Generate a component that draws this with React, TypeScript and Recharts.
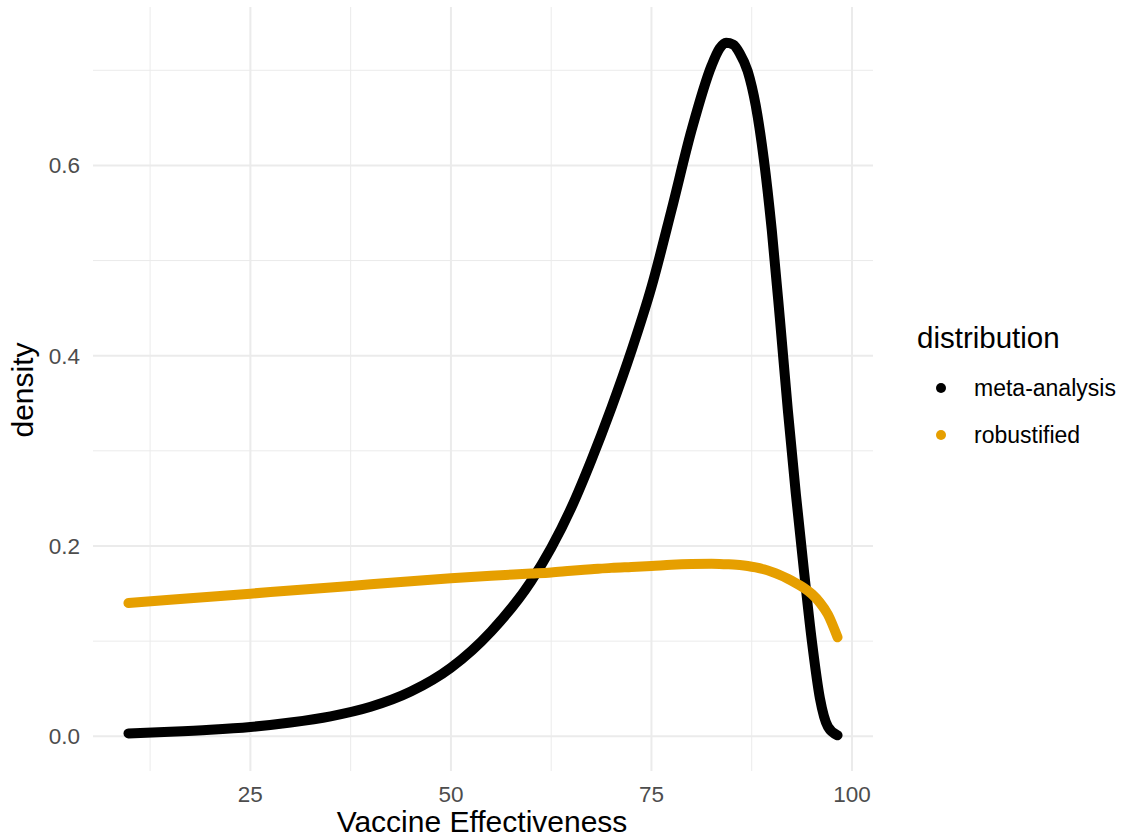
import React from 'react';
import { LineChart, Line, XAxis, YAxis, CartesianGrid, Legend, Label } from 'recharts';

// values
const effectiveness = [9.8, 15, 20, 25, 30, 35, 40, 45, 50, 55, 60, 62.5, 65, 67.5, 70, 72.5, 75, 77.5, 80, 82.5, 83.5, 84.3, 85.2, 86, 87, 88, 89, 90, 91, 92, 93, 94, 95, 96, 97, 98.2];
const metaAnalysis = [0.003, 0.0047, 0.0068, 0.0098, 0.0145, 0.021, 0.031, 0.047, 0.072, 0.11, 0.163, 0.198, 0.24, 0.29, 0.345, 0.405, 0.472, 0.553, 0.637, 0.705, 0.723, 0.729, 0.727, 0.718, 0.699, 0.663, 0.607, 0.532, 0.44, 0.343, 0.255, 0.175, 0.1, 0.04, 0.01, 0.001];
const robustified = [0.14, 0.1434, 0.1467, 0.1499, 0.1532, 0.1564, 0.1597, 0.1629, 0.166, 0.1688, 0.171, 0.1722, 0.174, 0.1755, 0.177, 0.178, 0.179, 0.1803, 0.181, 0.1812, 0.1811, 0.1808, 0.1805, 0.18, 0.179, 0.1775, 0.1755, 0.1728, 0.1695, 0.1655, 0.161, 0.156, 0.1495, 0.1405, 0.128, 0.104];

const xTicks = [25, 50, 75, 100];
const xMinor = [12.5, 37.5, 62.5, 87.5];
const yTicks = [0, 0.2, 0.4, 0.6];
const yMinor = [0.1, 0.3, 0.5, 0.7];

const seriesNames = ['meta-analysis', 'robustified'];
const seriesColors = ['#000000', '#E69F00'];

const FONT = '"Liberation Sans", Arial, sans-serif';

const data = effectiveness.map((x, i) => ({
  x,
  meta: metaAnalysis[i],
  robust: robustified[i],
}));

const LegendBox = () => (
  <div style={{ position: 'relative', width: 205, height: 140, fontFamily: FONT }}>
    <div style={{ position: 'absolute', left: 0, top: 0, fontSize: 29.5, lineHeight: '40px', color: '#000', whiteSpace: 'nowrap' }}>distribution</div>
    {seriesNames.map((name, i) => (
      <div key={name} style={{ position: 'absolute', left: 0, top: 46.5 + i * 47, height: 47, width: 205 }}>
        <span style={{ position: 'absolute', left: 19, top: 18.5, width: 10, height: 10, borderRadius: 5, background: seriesColors[i] }} />
        <span style={{ position: 'absolute', left: 57, top: 0, fontSize: 23, lineHeight: '47px', color: '#000', whiteSpace: 'nowrap' }}>{name}</span>
      </div>
    ))}
  </div>
);

export default function App() {
  return (
    <div style={{ position: 'absolute', left: 0, top: 0, width: 1122, height: 839, background: '#fff' }}>
      <LineChart width={1122} height={839} data={data} margin={{ top: 7, right: 249, bottom: 0, left: 0 }}>
        <CartesianGrid stroke="#EBEBEB" strokeWidth={1} horizontalValues={yMinor} verticalValues={xMinor} />
        <CartesianGrid stroke="#EBEBEB" strokeWidth={2} horizontalValues={yTicks} verticalValues={xTicks} />
        <XAxis
          dataKey="x"
          type="number"
          domain={[5.38, 102.62]}
          ticks={xTicks}
          allowDataOverflow
          axisLine={false}
          tickLine={false}
          tickSize={0}
          tickMargin={15}
          height={68}
          tick={{ fill: '#4D4D4D', fontSize: 22.5, fontFamily: FONT }}
        >
          <Label
            content={() => (
              <text x={482} y={832} textAnchor="middle" fontSize={30} fontFamily={FONT} fill="#000">
                Vaccine Effectiveness
              </text>
            )}
          />
        </XAxis>
        <YAxis
          type="number"
          domain={[-0.0365, 0.7665]}
          ticks={yTicks}
          allowDataOverflow
          axisLine={false}
          tickLine={false}
          tickSize={0}
          tickMargin={13}
          width={93}
          tickFormatter={(v: number) => v.toFixed(1)}
          tick={{ fill: '#4D4D4D', fontSize: 22.5, fontFamily: FONT }}
        >
          <Label
            content={() => (
              <text x={33} y={390} transform="rotate(-90 33 390)" textAnchor="middle" fontSize={30} fontFamily={FONT} fill="#000">
                density
              </text>
            )}
          />
        </YAxis>
        <Legend
          layout="vertical"
          align="center"
          verticalAlign="middle"
          content={() => <LegendBox />}
          wrapperStyle={{ left: 917, top: 318, width: 205, height: 140 }}
        />
        <Line type="monotone" dataKey="meta" name={seriesNames[0]} stroke={seriesColors[0]} strokeWidth={10} strokeLinecap="round" strokeLinejoin="round" dot={false} isAnimationActive={false} />
        <Line type="monotone" dataKey="robust" name={seriesNames[1]} stroke={seriesColors[1]} strokeWidth={10} strokeLinecap="round" strokeLinejoin="round" dot={false} isAnimationActive={false} />
      </LineChart>
    </div>
  );
}
